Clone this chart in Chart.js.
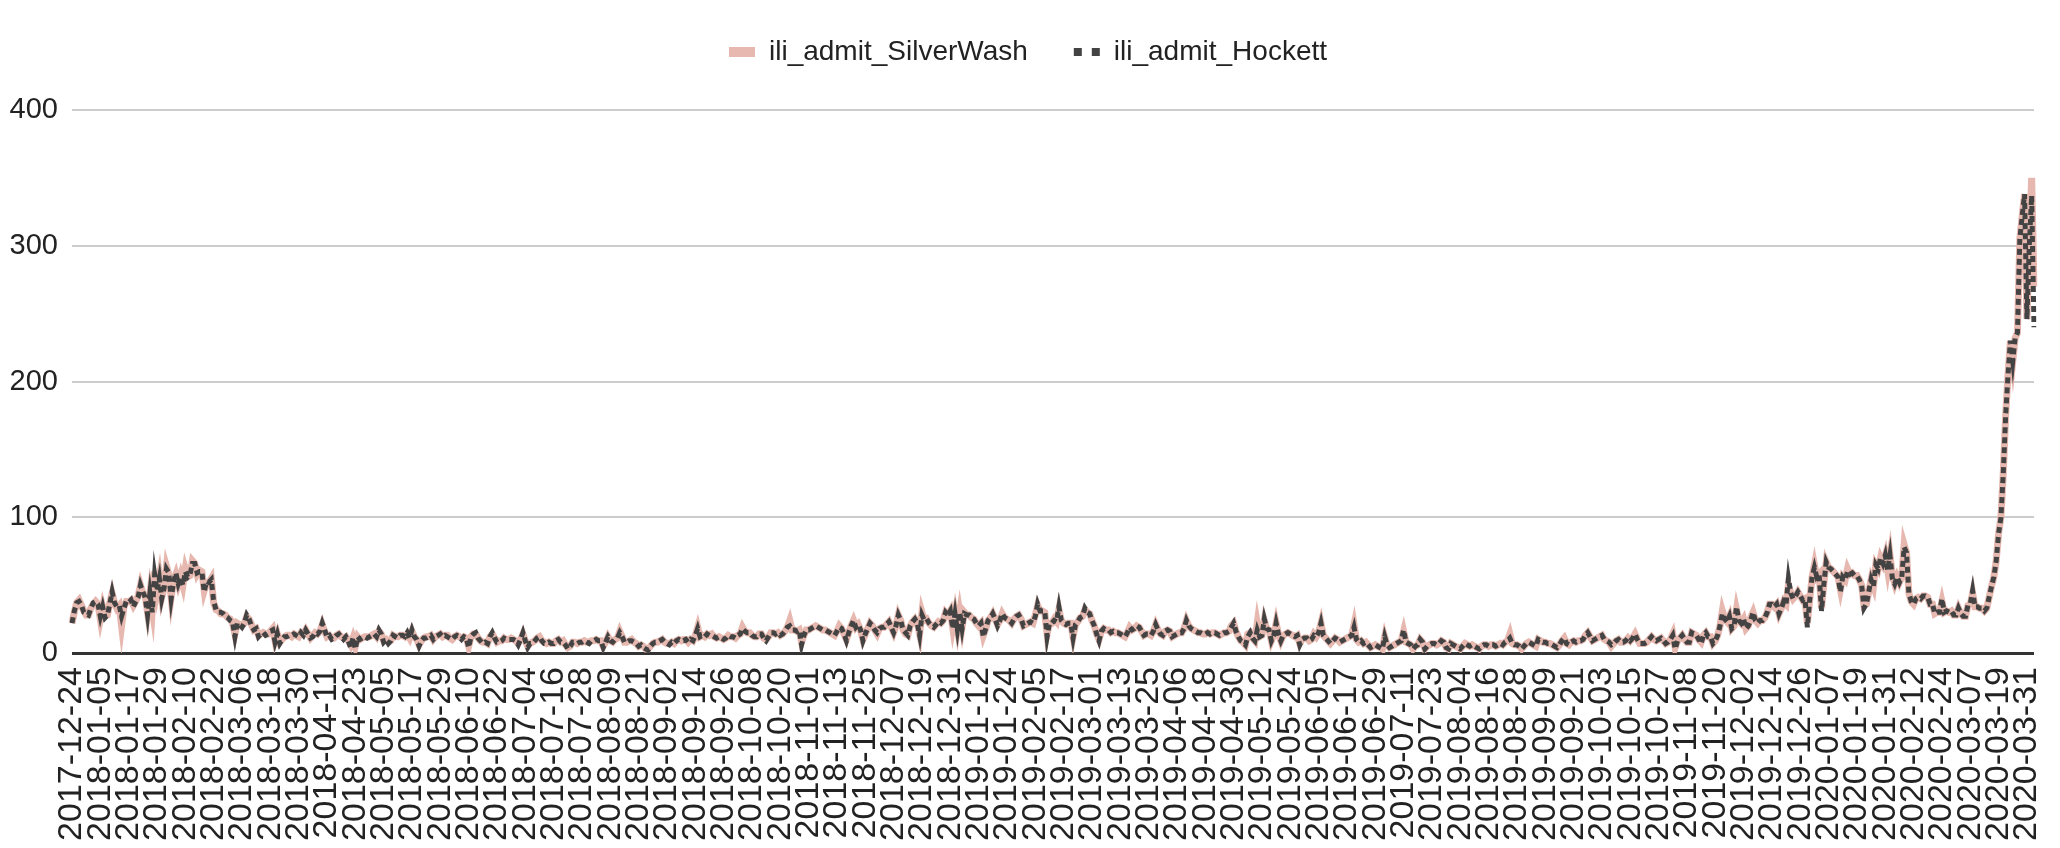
<!DOCTYPE html>
<html>
<head>
<meta charset="utf-8">
<title>ili_admit</title>
<script src="https://cdn.jsdelivr.net/npm/chart.js@4"></script>
<style>
  html, body { margin: 0; padding: 0; background: #fff; }
  #wrap { width: 2060px; height: 848px; position: relative; }
</style>
</head>
<body>
<div id="wrap"><canvas id="chart"></canvas></div>
<script>
// daily series, one row = 12 days (one x tick)
const startDate = [2017, 11, 24];
const tickEvery = 12;

const silverWash = [
  22, 30, 37, 39, 35, 31, 28, 28, 33, 36, 38, 36,
  25, 34, 27, 28, 37, 44, 37, 33, 35, 20, 34, 38,
  38, 39, 35, 38, 42, 50, 44, 42, 30, 44, 32, 60,
  46, 56, 41, 48, 64, 58, 41, 53, 58, 51, 57, 50,
  62, 56, 57, 68, 66, 58, 61, 60, 46, 52, 52, 55,
  37, 32, 31, 29, 29, 28, 26, 25, 22, 14, 22, 21,
  20, 22, 27, 25, 21, 17, 18, 13, 14, 15, 14, 14,
  16, 18, 9, 14, 8, 10, 12, 13, 13, 12, 14, 13,
  12, 15, 14, 17, 14, 11, 13, 15, 14, 16, 21, 16,
  12, 13, 11, 11, 13, 14, 12, 11, 12, 9, 6, 11,
  5, 12, 10, 11, 12, 12, 12, 13, 14, 12, 16, 14,
  9, 10, 8, 9, 13, 12, 12, 13, 13, 12, 14, 11,
  16, 12, 10, 6, 9, 11, 12, 12, 13, 10, 12, 13,
  14, 12, 13, 13, 11, 10, 12, 13, 12, 11, 12, 11,
  5, 12, 14, 14, 11, 9, 8, 8, 7, 12, 14, 11,
  8, 9, 9, 11, 10, 10, 11, 10, 9, 7, 10, 14,
  9, 5, 7, 8, 9, 11, 12, 9, 8, 7, 8, 7,
  7, 9, 10, 8, 9, 6, 4, 5, 8, 8, 7, 8,
  8, 9, 8, 8, 9, 9, 10, 9, 9, 5, 8, 12,
  9, 8, 10, 11, 16, 12, 8, 8, 9, 10, 8, 7,
  5, 6, 5, 3, 3, 5, 7, 8, 8, 9, 10, 8,
  7, 7, 8, 7, 9, 10, 9, 10, 10, 8, 10, 9,
  13, 19, 12, 13, 12, 14, 13, 14, 12, 11, 12, 11,
  10, 11, 13, 12, 12, 11, 13, 14, 19, 16, 15, 15,
  13, 12, 12, 14, 14, 11, 10, 12, 15, 15, 14, 15,
  13, 14, 16, 19, 24, 17, 17, 16, 17, 8, 13, 17,
  17, 18, 19, 20, 19, 18, 17, 17, 16, 15, 14, 13,
  16, 20, 18, 14, 10, 15, 20, 24, 19, 21, 17, 10,
  14, 18, 22, 20, 17, 14, 18, 19, 19, 21, 23, 19,
  15, 20, 28, 24, 17, 14, 13, 20, 23, 25, 22, 14,
  30, 24, 25, 22, 20, 19, 21, 23, 22, 24, 30, 28,
  31, 19, 29, 18, 30, 19, 30, 28, 28, 26, 25, 22,
  20, 22, 13, 18, 24, 26, 29, 25, 21, 24, 29, 26,
  25, 24, 22, 25, 27, 28, 25, 20, 21, 22, 23, 22,
  28, 35, 31, 31, 30, 14, 22, 22, 25, 23, 32, 24,
  22, 21, 22, 22, 12, 21, 23, 26, 27, 32, 30, 29,
  24, 20, 14, 10, 16, 18, 17, 17, 15, 16, 15, 15,
  14, 13, 12, 15, 19, 17, 18, 20, 19, 16, 13, 14,
  14, 13, 16, 21, 17, 14, 13, 16, 17, 16, 12, 13,
  14, 15, 15, 18, 24, 20, 18, 17, 16, 15, 15, 14,
  14, 15, 14, 15, 15, 14, 13, 14, 15, 15, 16, 20,
  22, 16, 12, 9, 8, 6, 14, 15, 11, 9, 22, 12,
  13, 24, 18, 17, 9, 13, 22, 14, 9, 13, 14, 15,
  14, 13, 12, 13, 7, 10, 11, 11, 9, 10, 14, 12,
  15, 22, 13, 11, 9, 7, 9, 11, 10, 8, 9, 10,
  11, 12, 13, 21, 10, 8, 9, 7, 8, 6, 4, 5,
  6, 5, 4, 3, 12, 6, 4, 5, 6, 7, 8, 9,
  16, 8, 7, 6, 3, 5, 6, 10, 8, 3, 5, 6,
  7, 7, 6, 7, 9, 8, 4, 3, 7, 6, 5, 4,
  3, 5, 7, 6, 5, 6, 5, 4, 3, 5, 6, 6,
  5, 6, 6, 5, 6, 7, 6, 8, 9, 14, 7, 6,
  6, 5, 3, 5, 7, 8, 7, 6, 5, 10, 9, 8,
  8, 7, 7, 6, 5, 4, 6, 9, 11, 7, 6, 8,
  9, 8, 9, 9, 10, 13, 15, 12, 9, 10, 11, 12,
  13, 10, 9, 8, 5, 7, 9, 10, 8, 8, 9, 11,
  9, 11, 14, 10, 7, 7, 7, 8, 10, 12, 10, 9,
  10, 11, 9, 7, 8, 10, 14, 4, 9, 11, 13, 10,
  8, 8, 15, 14, 13, 10, 8, 13, 15, 12, 12, 7,
  9, 13, 20, 31, 25, 23, 27, 18, 20, 32, 24, 22,
  25, 18, 20, 26, 30, 24, 22, 24, 24, 26, 30, 36,
  36, 34, 36, 29, 33, 38, 36, 50, 44, 40, 42, 45,
  42, 39, 40, 22, 39, 56, 65, 56, 58, 33, 51, 67,
  63, 62, 60, 58, 56, 47, 56, 54, 62, 58, 59, 57,
  57, 54, 50, 35, 36, 45, 54, 49, 65, 62, 70, 66,
  72, 61, 72, 57, 51, 56, 52, 56, 80, 74, 44, 38,
  36, 40, 41, 40, 42, 42, 41, 36, 36, 29, 30, 30,
  38, 30, 31, 30, 31, 28, 28, 33, 29, 27, 27, 35,
  36, 44, 34, 34, 33, 33, 31, 33, 41, 49, 56, 68,
  88, 100, 133, 175, 205, 230, 215, 232, 236, 305, 322, 338,
  246, 300, 350, 270
];

const hockett = [
  22, 31, 37, 38, 35, 30, 29, 28, 33, 37, 38, 36,
  27, 34, 26, 28, 36, 45, 37, 34, 35, 27, 33, 38,
  37, 39, 34, 38, 41, 50, 45, 41, 28, 44, 30, 58,
  46, 55, 40, 48, 62, 59, 40, 52, 59, 51, 56, 50,
  60, 56, 58, 66, 66, 59, 60, 60, 45, 53, 52, 54,
  38, 32, 30, 30, 29, 27, 26, 24, 23, 12, 22, 21,
  19, 22, 28, 25, 20, 17, 18, 12, 14, 15, 13, 14,
  16, 17, 8, 14, 7, 10, 12, 12, 13, 13, 14, 13,
  12, 15, 13, 17, 14, 11, 12, 15, 14, 16, 22, 17,
  12, 13, 10, 11, 13, 14, 12, 10, 12, 9, 4, 11,
  3, 12, 10, 11, 12, 11, 12, 13, 14, 12, 17, 14,
  8, 10, 7, 9, 13, 12, 11, 13, 13, 12, 15, 11,
  17, 12, 10, 5, 9, 11, 11, 12, 13, 10, 12, 13,
  14, 12, 13, 12, 11, 10, 12, 13, 12, 10, 12, 11,
  4, 12, 14, 15, 11, 9, 7, 8, 7, 12, 15, 11,
  8, 8, 9, 11, 10, 10, 10, 10, 9, 6, 10, 15,
  9, 4, 7, 7, 9, 11, 12, 9, 7, 7, 8, 7,
  7, 9, 10, 8, 8, 6, 3, 5, 8, 8, 7, 8,
  8, 9, 8, 7, 9, 9, 10, 9, 9, 4, 8, 12,
  9, 8, 10, 11, 15, 12, 8, 8, 9, 9, 8, 7,
  5, 6, 4, 3, 2, 5, 7, 8, 8, 9, 10, 8,
  7, 6, 8, 7, 9, 10, 9, 9, 10, 8, 10, 9,
  13, 18, 12, 13, 12, 14, 13, 13, 12, 11, 12, 11,
  10, 11, 13, 12, 12, 11, 13, 14, 18, 16, 15, 15,
  13, 12, 12, 14, 14, 11, 9, 12, 15, 15, 14, 15,
  13, 14, 16, 19, 20, 17, 17, 16, 17, 6, 13, 17,
  17, 18, 19, 20, 19, 18, 17, 17, 16, 15, 14, 13,
  16, 19, 18, 14, 9, 15, 20, 24, 19, 21, 17, 9,
  14, 18, 22, 20, 17, 15, 18, 19, 19, 21, 23, 19,
  15, 20, 28, 24, 17, 15, 13, 20, 23, 25, 22, 13,
  28, 24, 25, 22, 20, 19, 21, 23, 22, 24, 30, 28,
  31, 18, 29, 17, 30, 18, 29, 28, 28, 26, 25, 22,
  20, 22, 12, 18, 24, 26, 29, 25, 20, 24, 29, 26,
  25, 24, 22, 25, 27, 28, 25, 20, 21, 22, 23, 22,
  27, 36, 31, 31, 31, 12, 22, 22, 24, 23, 34, 24,
  22, 21, 22, 22, 11, 21, 23, 26, 27, 33, 30, 29,
  24, 20, 14, 9, 16, 18, 17, 17, 15, 16, 15, 15,
  14, 13, 12, 15, 19, 17, 18, 20, 19, 16, 13, 14,
  14, 13, 16, 21, 17, 14, 13, 16, 17, 16, 12, 13,
  14, 15, 15, 18, 24, 20, 18, 17, 16, 15, 15, 14,
  14, 15, 14, 15, 15, 14, 13, 14, 15, 15, 16, 19,
  22, 16, 12, 9, 8, 6, 12, 15, 11, 9, 17, 12,
  13, 25, 18, 17, 9, 13, 22, 14, 9, 13, 14, 15,
  14, 13, 12, 13, 6, 10, 11, 11, 9, 10, 13, 12,
  15, 22, 13, 11, 9, 7, 9, 11, 10, 8, 9, 10,
  11, 12, 13, 19, 10, 8, 9, 7, 8, 6, 4, 5,
  6, 5, 4, 3, 12, 6, 4, 5, 6, 7, 8, 9,
  17, 8, 7, 6, 3, 5, 6, 10, 8, 3, 5, 6,
  7, 7, 6, 7, 9, 8, 4, 3, 7, 6, 5, 4,
  3, 5, 7, 6, 5, 6, 5, 4, 3, 5, 6, 6,
  5, 6, 6, 5, 6, 7, 6, 8, 9, 11, 7, 6,
  6, 5, 3, 5, 7, 8, 7, 6, 5, 10, 9, 8,
  8, 7, 7, 6, 5, 4, 6, 9, 11, 7, 6, 8,
  9, 8, 9, 9, 10, 13, 15, 12, 9, 10, 11, 12,
  13, 10, 9, 8, 6, 7, 9, 10, 8, 8, 9, 11,
  9, 11, 14, 10, 7, 7, 7, 8, 10, 12, 10, 9,
  10, 11, 9, 7, 8, 10, 13, 3, 9, 11, 13, 10,
  8, 8, 15, 14, 13, 10, 7, 13, 15, 12, 12, 7,
  9, 13, 20, 29, 25, 23, 27, 18, 20, 34, 24, 22,
  25, 18, 20, 24, 30, 24, 22, 24, 24, 26, 30, 36,
  36, 34, 36, 29, 33, 38, 36, 55, 44, 40, 42, 45,
  42, 39, 40, 19, 39, 56, 63, 56, 58, 31, 51, 67,
  63, 62, 60, 58, 56, 45, 56, 54, 60, 58, 59, 57,
  57, 54, 50, 33, 36, 45, 54, 49, 65, 62, 70, 66,
  72, 61, 72, 55, 51, 56, 52, 56, 78, 74, 44, 38,
  36, 40, 41, 40, 42, 42, 41, 36, 36, 29, 30, 30,
  40, 30, 31, 30, 31, 28, 28, 33, 29, 27, 27, 35,
  36, 46, 34, 34, 33, 33, 31, 33, 41, 49, 56, 68,
  88, 100, 133, 175, 205, 230, 215, 232, 236, 305, 322, 338,
  246, 300, 337, 240
];

// one category per day
const days = hockett.map((_, i) =>
  new Date(Date.UTC(startDate[0], startDate[1], startDate[2] + i)).toISOString().slice(0, 10));

Chart.defaults.font.family = "'Liberation Sans', Arial, sans-serif";
Chart.defaults.color = '#222';

// extra room between legend and plot
const legendGap = {
  id: 'legendGap',
  beforeInit(chart) {
    const fit = chart.legend.fit;
    chart.legend.fit = function () { fit.call(this); this.height += 34; };
  }
};

const ctx = document.getElementById('chart').getContext('2d');
const chart = new Chart(ctx, {
  type: 'line',
  data: {
    labels: days,
    datasets: [{
      label: 'ili_admit_SilverWash',
      data: silverWash,
      borderColor: '#e6b8af',
      backgroundColor: '#e6b8af',
      borderWidth: 7,
      pointRadius: 0,
      order: 1
    }, {
      label: 'ili_admit_Hockett',
      data: hockett,
      borderColor: '#434343',
      backgroundColor: '#434343',
      borderWidth: 5,
      borderDash: [6, 4],
      pointRadius: 0,
      order: 0
    }]
  },
  options: {
    responsive: true,
    maintainAspectRatio: false,
    animation: false,
    events: [],
    layout: { padding: { top: -8, left: 8, right: 12, bottom: 0 } },
    plugins: {
      tooltip: { enabled: false },
      legend: {
        position: 'top',
        labels: {
          usePointStyle: true,
          pointStyle: 'line',
          pointStyleWidth: 26,
          padding: 46,
          color: '#222',
          font: { size: 28 },
          sort: (a, b) => a.datasetIndex - b.datasetIndex,
          generateLabels(chart) {
            const items = Chart.defaults.plugins.legend.labels.generateLabels(chart);
            items.forEach(it => {
              if (it.datasetIndex === 1) { it.lineDash = [8, 10]; it.lineWidth = 8; }
              else { it.lineWidth = 10; }
            });
            return items;
          }
        }
      }
    },
    scales: {
      x: {
        grid: { display: false, drawTicks: false },
        border: { display: false },
        ticks: {
          autoSkip: false,
          maxRotation: 90,
          minRotation: 90,
          padding: 14,
          color: '#222',
          font: { size: 34 },
          callback(value, index) {
            return index % tickEvery === 0 ? this.getLabelForValue(value) : null;
          }
        },
        afterFit(scale) {
          scale.height = 195;
          scale.paddingLeft = 0;
          scale.paddingRight = 26;
        }
      },
      y: {
        min: 0,
        max: 400,
        grid: {
          drawTicks: false,
          color: c => c.tick.value === 0 ? '#333' : '#cccccc',
          lineWidth: c => c.tick.value === 0 ? 3 : 2
        },
        border: { display: false },
        ticks: {
          stepSize: 100,
          padding: 14,
          color: '#222',
          font: { size: 29 }
        },
        afterFit(scale) { scale.width = 64; }
      }
    }
  },
  plugins: [legendGap]
});
</script>
</body>
</html>
